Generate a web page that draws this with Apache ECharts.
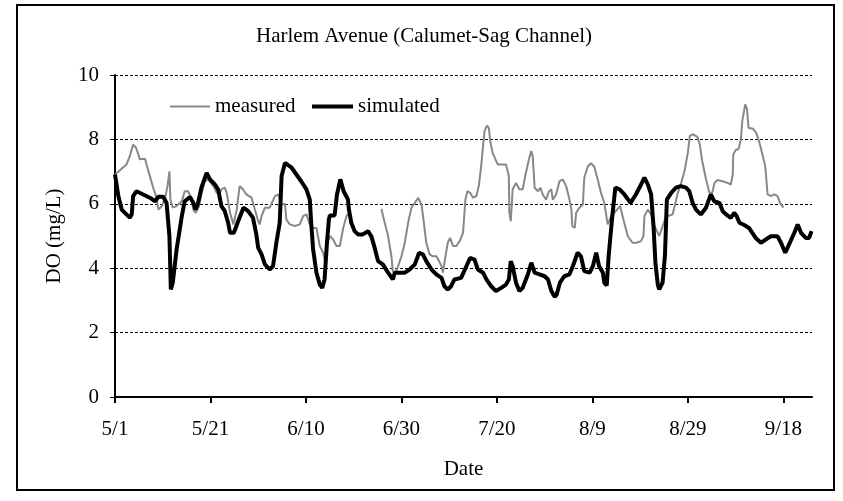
<!DOCTYPE html>
<html>
<head>
<meta charset="utf-8">
<title>Harlem Avenue (Calumet-Sag Channel)</title>
<script src="https://cdn.jsdelivr.net/npm/echarts@6/dist/echarts.min.js"></script>
<style>
  html, body { margin: 0; padding: 0; background: #fff; }
  #chart { width: 843px; height: 501px; }
</style>
</head>
<body>
<div id="chart"></div>
<script>
// days counted from 5/1
var startMonth = 4, startDay = 1
var tickDays = [0, 20, 40, 60, 80, 100, 120, 140]
var yTicks = [0, 2, 4, 6, 8, 10]

// measured DO (mg/L), null = no data
var measuredDay = [0, 0.8, 2.4, 3.1, 3.8, 4.4, 4.9, 5.2, 5.6, 6.3, 6.6, 7.3, 8.0, 8.7, 9.1, 9.4, 9.8, 10.5, 11.0, 11.4,
  11.6, 12.1, 12.9, 14.0, 14.6, 15.3, 16.0, 16.4, 16.9, 17.6, 18.1, 18.8, 19.5, 20.6, 21.3, 22.0, 22.3, 23.0, 23.4, 24.1,
  24.8, 25.5, 26.1, 26.8, 27.5, 28.6, 29.3, 30.0, 30.3, 30.7, 31.4, 32.4, 32.8, 33.5, 34.2, 34.9, 35.6, 35.9, 36.6, 37.7,
  38.7, 39.4, 40.1, 40.8, 41.5, 42.2, 42.9, 43.6, 43.9, 44.3, 45.0, 45.7, 46.4, 47.1, 47.8, 48.5, 49.0, 52.0,
  55.8, 56.5, 57.2, 57.9, 58.2, 58.8, 59.3, 60.0, 60.7, 61.4, 62.1, 62.8, 63.5, 64.2, 64.7, 65.2, 65.9, 66.6, 67.3, 67.9,
  68.4, 68.7, 69.0, 69.7, 70.2, 70.8, 71.5, 72.2, 72.9, 73.4, 73.8, 74.4, 75.0, 75.7, 76.2, 76.7, 77.1, 77.4, 77.9, 78.3,
  78.6, 79.1, 79.7, 80.2, 81.2, 81.9, 82.5, 82.6, 82.9, 83.3, 84.0, 84.7, 85.4, 86.0, 86.7, 87.2, 87.5, 87.9, 88.6, 89.1,
  89.6, 90.3, 90.9, 91.4, 91.7, 92.4, 93.1, 93.8, 94.5, 95.2, 95.6, 95.8, 96.3, 96.6, 97.3, 98.0, 98.3, 99.0, 99.7, 100.4,
  101.1, 101.8, 102.5, 103.2, 103.9, 104.9, 105.8, 106.5, 107.4, 108.4, 109.2, 110.2, 110.7, 110.9, 111.6, 112.3, 113.0, 114.0, 114.7, 115.4,
  116.8, 117.9, 118.6, 119.3, 120.0, 120.4, 121.0, 122.0, 122.5, 123.0, 123.8, 124.5, 125.1, 125.6, 126.2, 127.3, 128.3, 129.0, 129.4, 129.5,
  130.1, 130.6, 131.1, 131.4, 132.0, 132.4, 132.7, 133.6, 134.3, 135.0, 135.7, 136.2, 136.7, 137.4, 138.1, 138.8, 139.3, 140.0]
var measuredDO = [6.91, 7.01, 7.22, 7.48, 7.84, 7.74, 7.53, 7.38, 7.4, 7.4, 7.22, 6.86, 6.5, 6.19, 5.82, 5.88, 5.93, 6.19, 6.55, 7.01,
  6.13, 5.88, 5.93, 6.08, 6.39, 6.39, 6.19, 5.82, 5.72, 5.93, 6.29, 6.7, 6.76, 6.55, 6.34, 6.34, 6.45, 6.5, 6.34, 5.72,
  5.36, 5.82, 6.55, 6.45, 6.29, 6.19, 5.82, 5.46, 5.36, 5.62, 5.88, 5.88, 5.82, 6.24, 6.29, 5.98, 6.0, 5.51, 5.36, 5.31,
  5.36, 5.62, 5.67, 5.36, 5.25, 5.25, 4.69, 4.48, 4.27, 4.69, 5.0, 4.89, 4.69, 4.69, 5.25, 5.62, 5.7, null,
  5.84, 5.41, 5.0, 4.37, 3.91, 3.86, 4.06, 4.37, 4.79, 5.41, 5.88, 6.03, 6.19, 5.98, 5.41, 4.79, 4.43, 4.37, 4.37, 4.22,
  4.06, 3.86, 4.17, 4.79, 4.94, 4.69, 4.69, 4.84, 5.1, 6.13, 6.39, 6.34, 6.19, 6.24, 6.55, 7.17, 7.79, 8.26, 8.43, 8.36,
  7.95, 7.58, 7.38, 7.22, 7.22, 7.22, 6.86, 5.72, 5.46, 6.45, 6.65, 6.45, 6.45, 6.91, 7.38, 7.64, 7.48, 6.5, 6.39, 6.5,
  6.29, 6.13, 6.39, 6.45, 6.13, 6.29, 6.7, 6.76, 6.55, 6.13, 5.82, 5.31, 5.25, 5.72, 5.88, 5.98, 6.81, 7.15, 7.26, 7.15,
  6.76, 6.34, 6.03, 5.36, 5.62, 5.77, 5.93, 5.51, 5.0, 4.79, 4.79, 4.84, 5.0, 5.62, 5.82, 5.67, 5.31, 5.0, 5.3, 5.6,
  5.67, 6.34, 6.65, 7.02, 7.59, 8.1, 8.16, 8.08, 7.84, 7.33, 6.76, 6.34, 6.34, 6.65, 6.74, 6.7, 6.65, 6.6, 6.91, 7.53,
  7.69, 7.69, 8.0, 8.57, 9.09, 8.93, 8.36, 8.33, 8.21, 7.9, 7.48, 7.17, 6.29, 6.24, 6.29, 6.24, 6.03, 5.88]

// simulated DO (mg/L)
var simulatedDay = [0, 0.7, 1.4, 2.4, 3.1, 3.5, 3.8, 4.5, 5.9, 7.3, 8.4, 9.1, 10.1, 10.8, 11.4, 11.7, 12.1, 12.9, 14.0, 14.6,
  15.7, 16.4, 16.9, 17.4, 18.1, 19.2, 19.9, 20.9, 21.6, 22.3, 23.0, 23.7, 24.1, 24.9, 25.8, 26.9, 27.9, 28.9, 29.6, 30.0,
  30.7, 31.4, 32.4, 33.1, 33.8, 34.5, 34.9, 35.6, 35.9, 37.0, 38.0, 39.0, 40.1, 40.8, 41.1, 41.5, 42.2, 42.9, 43.4, 43.9,
  44.4, 44.8, 45.0, 46.0, 46.5, 47.2, 47.9, 48.8, 49.0, 49.5, 50.2, 50.9, 51.9, 53.0, 53.7, 54.4, 55.1, 56.1, 57.2, 58.2,
  58.6, 59.6, 60.7, 61.7, 62.8, 63.7, 64.5, 65.2, 66.3, 67.3, 68.4, 69.0, 69.7, 70.4, 71.1, 72.5, 73.6, 74.4, 75.3, 76.0,
  77.1, 77.8, 78.8, 79.8, 80.9, 81.9, 82.5, 82.9, 83.3, 84.0, 84.7, 85.4, 86.5, 87.2, 87.9, 88.9, 90.0, 90.7, 91.4, 92.1,
  92.5, 93.2, 94.1, 95.2, 95.9, 96.9, 97.6, 98.3, 99.4, 100.1, 100.8, 101.1, 101.4, 102.2, 102.5, 103.0, 103.4, 104.1, 104.8, 105.7,
  106.7, 108.0, 109.1, 110.2, 110.9, 111.6, 112.3, 112.8, 113.2, 113.7, 114.0, 114.7, 115.2, 115.6, 116.5, 117.5, 118.5, 119.6, 120.3, 121.0,
  121.7, 122.7, 123.8, 124.8, 125.5, 126.6, 127.3, 128.0, 129.0, 129.7, 130.2, 130.8, 131.8, 132.8, 134.2, 135.3, 136.3, 137.4, 138.8, 139.5,
  140.4, 141.2, 142.3, 143.0, 143.7, 144.7, 145.4, 145.9]
var simulatedDO = [6.91, 6.24, 5.82, 5.67, 5.57, 5.67, 6.24, 6.39, 6.29, 6.19, 6.08, 6.22, 6.22, 6.03, 5.0, 3.34, 3.55, 4.58, 5.62, 6.08,
  6.21, 6.03, 5.82, 6.03, 6.5, 6.96, 6.76, 6.6, 6.45, 5.93, 5.77, 5.41, 5.1, 5.1, 5.46, 5.88, 5.77, 5.57, 5.05, 4.63,
  4.43, 4.12, 3.96, 4.06, 4.79, 5.41, 6.86, 7.27, 7.33, 7.12, 6.91, 6.7, 6.45, 6.13, 5.41, 4.58, 3.86, 3.49, 3.39, 3.65,
  4.79, 5.51, 5.64, 5.64, 6.29, 6.76, 6.39, 6.13, 5.82, 5.41, 5.15, 5.05, 5.05, 5.15, 4.99, 4.63, 4.22, 4.12, 3.86, 3.65,
  3.86, 3.86, 3.86, 3.96, 4.12, 4.48, 4.43, 4.22, 3.96, 3.81, 3.70, 3.44, 3.34, 3.44, 3.65, 3.70, 4.06, 4.32, 4.27, 3.96,
  3.86, 3.65, 3.44, 3.29, 3.39, 3.49, 3.65, 4.22, 4.06, 3.55, 3.29, 3.39, 3.81, 4.17, 3.86, 3.81, 3.75, 3.65, 3.29, 3.11,
  3.18, 3.55, 3.75, 3.81, 4.06, 4.48, 4.37, 3.91, 3.86, 4.06, 4.48, 4.53, 4.06, 3.86, 3.55, 3.46, 4.37, 5.51, 6.5, 6.45,
  6.29, 6.03, 6.29, 6.6, 6.81, 6.6, 6.29, 5.31, 4.17, 3.49, 3.34, 3.55, 4.4, 6.13, 6.34, 6.5, 6.55, 6.5, 6.39, 6.03,
  5.82, 5.67, 5.88, 6.29, 6.08, 6.03, 5.77, 5.67, 5.56, 5.72, 5.62, 5.41, 5.34, 5.25, 4.94, 4.79, 4.89, 4.99, 4.99, 4.79,
  4.48, 4.74, 5.1, 5.36, 5.1, 4.94, 4.94, 5.15]

var font = "'Liberation Serif', 'Times New Roman', serif"
var legendText = { fontFamily: font, fontSize: 21, color: '#000' }

function pairs (days, vals) {
  return days.map(function (d, i) { return [d, vals[i]] })
}

function dayLabel (v) {
  var d = new Date(2001, startMonth, startDay + v)
  return (d.getMonth() + 1) + '/' + d.getDate()
}

var chart = echarts.init(document.getElementById('chart'))

var option = {
  backgroundColor: '#fff',
  animation: false,
  title: {
    text: 'Harlem Avenue (Calumet-Sag Channel)',
    left: 256,
    top: 26,
    padding: 0,
    textStyle: { fontFamily: font, fontSize: 21, fontWeight: 'normal', color: '#000' }
  },
  // two legends so each line keeps its own thickness
  legend: [
    {
      left: 170,
      top: 96,
      padding: 0,
      icon: 'rect',
      itemWidth: 40,
      itemHeight: 2,
      textStyle: legendText,
      data: ['measured']
    },
    {
      left: 312,
      top: 96,
      padding: 0,
      icon: 'rect',
      itemWidth: 41,
      itemHeight: 4,
      textStyle: legendText,
      data: ['simulated']
    }
  ],
  graphic: [{
    type: 'rect',
    shape: { x: 17, y: 5, width: 817, height: 485 },
    style: { fill: 'none', stroke: '#000', lineWidth: 2 },
    silent: true
  }],
  grid: {
    left: 115,
    right: 31,
    top: 75,
    bottom: 104
  },
  xAxis: {
    type: 'value',
    min: 0,
    max: 146,
    interval: 20,
    name: 'Date',
    nameLocation: 'middle',
    nameGap: 62,
    nameTextStyle: { fontFamily: font, fontSize: 21, color: '#000' },
    axisLine: { show: true, onZero: false, lineStyle: { color: '#000', width: 2 } },
    axisTick: { show: true, length: 6, inside: false, customValues: tickDays, lineStyle: { color: '#000', width: 2 } },
    axisLabel: {
      customValues: tickDays,
      margin: 22,
      fontFamily: font,
      fontSize: 21,
      color: '#000',
      formatter: dayLabel
    },
    splitLine: { show: false }
  },
  yAxis: {
    type: 'value',
    min: 0,
    max: 10,
    interval: 2,
    name: 'DO (mg/L)',
    nameLocation: 'middle',
    nameGap: 50,
    nameTextStyle: { fontFamily: font, fontSize: 21, color: '#000' },
    axisLine: { show: true, lineStyle: { color: '#000', width: 2 } },
    axisTick: { show: true, length: 5, lineStyle: { color: '#000', width: 1 } },
    axisLabel: {
      margin: 16,
      fontFamily: font,
      fontSize: 21,
      color: '#000',
      customValues: yTicks
    },
    splitLine: { show: true, lineStyle: { color: '#000', width: 1, type: [3, 2] } }
  },
  series: [
    {
      name: 'measured',
      type: 'line',
      showSymbol: false,
      symbol: 'none',
      connectNulls: false,
      lineStyle: { color: '#888888', width: 2 },
      itemStyle: { color: '#888888' },
      data: pairs(measuredDay, measuredDO)
    },
    {
      name: 'simulated',
      type: 'line',
      showSymbol: false,
      symbol: 'none',
      lineStyle: { color: '#000', width: 4 },
      itemStyle: { color: '#000' },
      data: pairs(simulatedDay, simulatedDO)
    }
  ]
}

chart.setOption(option)
</script>
</body>
</html>
